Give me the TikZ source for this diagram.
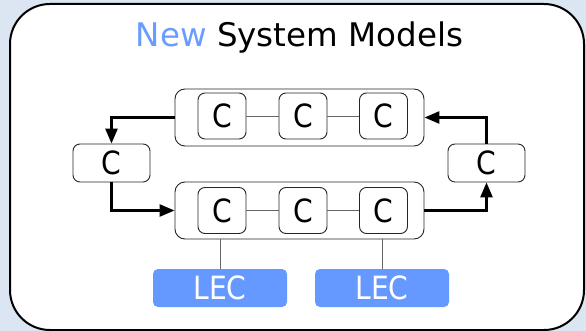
\documentclass[tikz,border=0pt]{standalone}
\usepackage{fontspec}
\setmainfont{DejaVu Sans}
\newfontfamily\boxfont{DejaVu Sans}[FakeStretch=0.88]
\usetikzlibrary{arrows.meta}
\definecolor{bgblue}{HTML}{DCE6F2}
\definecolor{lecblue}{HTML}{6699FF}
\definecolor{newblue}{HTML}{6A9BFF}

\begin{document}
\begin{tikzpicture}[x=1pt,y=-1pt,
  cbox/.style={draw=black!85, line width=0.9pt, rounded corners=7pt,
    minimum width=48pt, minimum height=46pt, inner sep=0pt,
    font=\boxfont\fontsize{32}{32}\selectfont},
  sidebox/.style={cbox, minimum width=77pt, minimum height=38pt},
  group/.style={draw=black!85, line width=0.9pt, rounded corners=10pt,
    minimum width=249pt, minimum height=57pt, inner sep=0pt},
  lec/.style={fill=lecblue, rounded corners=5pt, minimum width=134pt,
    minimum height=38pt, inner sep=0pt, text=white,
    font=\boxfont\fontsize{32}{32}\selectfont},
  link/.style={draw=black!60, line width=0.8pt},
  flow/.style={line width=2.6pt, -{Triangle[length=15pt,width=12pt]}},
]
\useasboundingbox (0,0) rectangle (586,331);
\fill[bgblue] (0,0) rectangle (586,331);
\draw[line width=2pt, fill=white, rounded corners=40pt] (10,4) rectangle (584,330);

% title
\node[anchor=base, inner sep=0pt, font=\fontsize{32.5}{32.5}\selectfont] (title) at (299.5,47)
  {\textcolor{newblue}{New} System Models};

% component groups
\node[group] (gU) at (299.5,117.5) {};
\node[group] (gL) at (299.5,210.5) {};

\node[cbox] (u1) at (222,116) {C};
\node[cbox] (u2) at (303,116) {C};
\node[cbox] (u3) at (383.5,116) {C};
\node[cbox] (l1) at (222,210.5) {C};
\node[cbox] (l2) at (303,210.5) {C};
\node[cbox] (l3) at (383.5,210.5) {C};

\draw[link] (u1) -- (u2);
\draw[link] (u2) -- (u3);
\draw[link] (l1) -- (l2);
\draw[link] (l2) -- (l3);

% side components
\node[sidebox] (cL) at (111.5,163) {C};
\node[sidebox] (cR) at (486.5,163) {C};

% LEC blocks
\node[lec] (lecA) at (220,288) {LEC};
\node[lec] (lecB) at (382,288) {LEC};
\draw[link] (lecA.north) -- (lecA.north |- gL.south);
\draw[link] (lecB.north) -- (lecB.north |- gL.south);

% control flow
\draw[flow] (gU.west) -| (cL.north);
\draw[flow] (cL.south) |- (gL.west);
\draw[flow] (gL.east) -| (cR.south);
\draw[flow] (cR.north) |- (gU.east);
\end{tikzpicture}
\end{document}
